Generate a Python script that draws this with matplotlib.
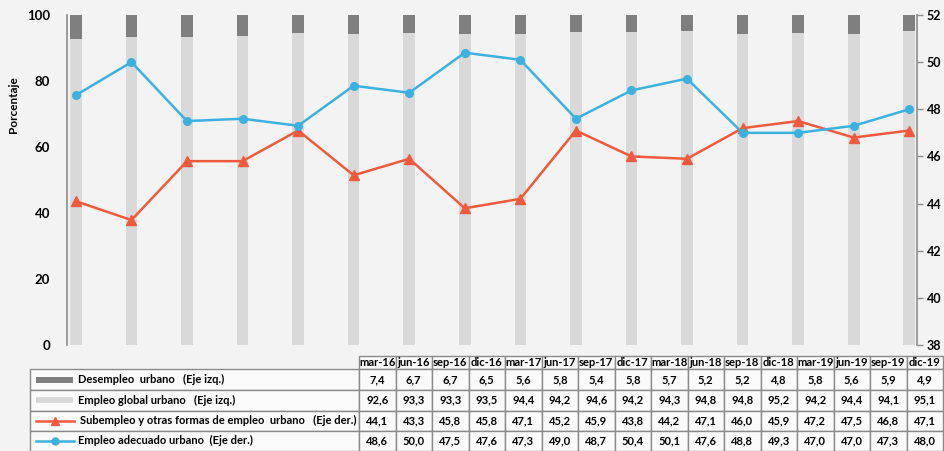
import numpy as np
import matplotlib
matplotlib.use("Agg")
import matplotlib.pyplot as plt
from matplotlib.patches import Rectangle
from matplotlib.lines import Line2D

plt.rcParams['font.family'] = ['Lato', 'DejaVu Sans']

periodos = ['mar-16', 'jun-16', 'sep-16', 'dic-16', 'mar-17', 'jun-17', 'sep-17', 'dic-17',
            'mar-18', 'jun-18', 'sep-18', 'dic-18', 'mar-19', 'jun-19', 'sep-19', 'dic-19']
desempleo = [7.4, 6.7, 6.7, 6.5, 5.6, 5.8, 5.4, 5.8, 5.7, 5.2, 5.2, 4.8, 5.8, 5.6, 5.9, 4.9]
empleo_global = [92.6, 93.3, 93.3, 93.5, 94.4, 94.2, 94.6, 94.2, 94.3, 94.8, 94.8, 95.2, 94.2, 94.4, 94.1, 95.1]
subempleo = [44.1, 43.3, 45.8, 45.8, 47.1, 45.2, 45.9, 43.8, 44.2, 47.1, 46.0, 45.9, 47.2, 47.5, 46.8, 47.1]
adecuado = [48.6, 50.0, 47.5, 47.6, 47.3, 49.0, 48.7, 50.4, 50.1, 47.6, 48.8, 49.3, 47.0, 47.0, 47.3, 48.0]

series_nombres = ['Desempleo  urbano   (Eje izq.)',
                  'Empleo global urbano   (Eje izq.)',
                  'Subempleo y otras formas de empleo  urbano   (Eje der.)',
                  'Empleo adecuado urbano  (Eje der.)']

c_dark = '#7f7f7f'
c_light = '#d9d9d9'
c_red = '#ef5a3c'
c_blue = '#3cb1de'

W, H = 944, 451
fig = plt.figure(figsize=(W / 100, H / 100), dpi=100)
fig.patch.set_facecolor('#f3f3f3')

ax = fig.add_axes([67 / W, 1 - 345 / H, (917 - 67) / W, (345 - 15) / H])
ax.set_facecolor('none')
x = np.arange(len(periodos))
ax.bar(x, empleo_global, width=0.21, color=c_light, zorder=1)
ax.bar(x, desempleo, bottom=empleo_global, width=0.21, color=c_dark, zorder=1)
ax.set_xlim(-0.16, 15.14)
ax.set_ylim(0, 100)
ax.set_yticks(range(0, 101, 20))
ax.set_xticks([])
ax.tick_params(axis='y', length=0, pad=12, labelsize=9.5)
for lab in ax.get_yticklabels():
    lab.set_fontweight('bold')
fig.text(13 / W, 1 - 105 / H, 'Porcentaje', rotation=90, ha='center', va='center',
         fontsize=8.5, fontweight='bold')
for s in ['top', 'right', 'bottom']:
    ax.spines[s].set_visible(False)
ax.spines['left'].set_color('#8c8c8c')
ax.spines['left'].set_linewidth(1.2)

ax2 = ax.twinx()
ax2.plot(x, subempleo, color=c_red, lw=1.8, marker='^', ms=7, zorder=3)
ax2.plot(x, adecuado, color=c_blue, lw=1.8, marker='o', ms=5.5, zorder=3)
ax2.set_ylim(38, 52)
ax2.set_yticks(range(38, 53, 2))
ax2.tick_params(axis='y', length=4, width=1, color='#8c8c8c', pad=3, labelsize=9)
for lab in ax2.get_yticklabels():
    lab.set_fontweight('bold')
for s in ['top', 'left', 'bottom']:
    ax2.spines[s].set_visible(False)
ax2.spines['right'].set_color('#8c8c8c')
ax2.spines['right'].set_linewidth(1.2)

# tabla de datos
tab = fig.add_axes([0, 0, 1, 1])
tab.set_xlim(0, W)
tab.set_ylim(H, 0)
tab.axis('off')

x_lab0, x_dat0 = 30, 359
col_w = (W - 1 - x_dat0) / len(periodos)
y_rows = [356, 369, 390, 410.5, 431, 450.5]
edge = '#8a8a8a'

for j, p in enumerate(periodos):
    x0 = x_dat0 + j * col_w
    tab.add_patch(Rectangle((x0, y_rows[0]), col_w, y_rows[1] - y_rows[0],
                            facecolor='#fafafa', edgecolor=edge, lw=1))
    tab.text(x0 + col_w / 2, (y_rows[0] + y_rows[1]) / 2, p, ha='center', va='center',
             fontsize=8, fontweight='bold')

valores = [desempleo, empleo_global, subempleo, adecuado]
for i, (nombre, vals) in enumerate(zip(series_nombres, valores)):
    y0, y1 = y_rows[i + 1], y_rows[i + 2]
    yc = (y0 + y1) / 2
    tab.add_patch(Rectangle((x_lab0, y0), x_dat0 - x_lab0, y1 - y0,
                            facecolor='#fafafa', edgecolor=edge, lw=1))
    for j, v in enumerate(vals):
        x0 = x_dat0 + j * col_w
        tab.add_patch(Rectangle((x0, y0), col_w, y1 - y0,
                                facecolor='#fafafa', edgecolor=edge, lw=1))
        tab.text(x0 + col_w / 2, yc, f'{v:.1f}'.replace('.', ','), ha='center', va='center',
                 fontsize=8, fontweight='bold')
    if i == 0:
        tab.add_patch(Rectangle((36, yc - 3), 37, 6, facecolor=c_dark, edgecolor='none'))
    elif i == 1:
        tab.add_patch(Rectangle((36, yc - 3), 37, 6, facecolor=c_light, edgecolor='none'))
    elif i == 2:
        tab.add_line(Line2D([36, 74], [yc, yc], color=c_red, lw=1.8))
        tab.plot([55], [yc], marker='^', color=c_red, ms=6)
    else:
        tab.add_line(Line2D([36, 74], [yc, yc], color=c_blue, lw=1.8))
        tab.plot([55], [yc], marker='o', color=c_blue, ms=5)
    tab.text(78 if i != 2 else 80, yc, nombre, ha='left', va='center',
             fontsize=8, fontweight='bold')

fig.savefig('out.png', dpi=100, facecolor=fig.get_facecolor())
